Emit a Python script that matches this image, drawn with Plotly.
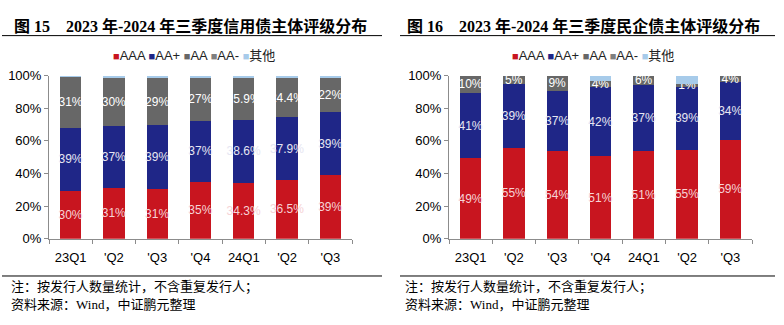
import plotly.graph_objects as go

quarters = ["23Q1", "'Q2", "'Q3", "'Q4", "24Q1", "'Q2", "'Q3"]
series_names = ["AAA", "AA+", "AA", "AA-", "其他"]

# Figure 15: credit bond issuers rating distribution (%)
left_AAA = [29.6, 31.3, 30.7, 35.0, 34.4, 36.2, 39.1]
left_AAp = [38.5, 37.6, 38.8, 37.2, 38.6, 38.2, 38.4]
left_AA = [31.3, 30.1, 29.3, 27.0, 25.9, 24.0, 21.5]
left_AAm = [0, 0, 0, 0, 0, 0, 0]
left_other = [0.6, 1.0, 1.2, 0.8, 1.1, 1.6, 1.0]
left_lbl_AAA = [30, 31, 31, 35, 34.3, 36.5, 39]
left_lbl_AAp = [39, 37, 39, 37, 38.6, 37.9, 39]
left_lbl_AA = [31, 30, 29, 27, 25.9, 24.4, 22]

# Figure 16: private enterprise bond issuers rating distribution (%)
right_AAA = [49.3, 55.7, 53.7, 50.6, 54.0, 54.4, 60.5]
right_AAp = [39.9, 39.1, 37.2, 42.3, 40.2, 38.8, 35.7]
right_AA = [10.8, 5.2, 9.1, 3.6, 5.8, 1.9, 3.8]
right_AAm = [0, 0, 0, 0, 0, 0, 0]
right_other = [0, 0, 0, 3.5, 0, 4.9, 0]
right_lbl_AAA = [49, 55, 54, 51, 51, 55, 59]
right_lbl_AAp = [41, 39, 37, 42, 37, 39, 34]
right_lbl_AA = [10, 5, 9, 4, 6, 1, 4]

y_ticks = [0, 20, 40, 60, 80, 100]
y_ticktext = ["0%", "20%", "40%", "60%", "80%", "100%"]

colors = {"AAA": "#C8151F", "AA+": "#1F2687", "AA": "#676767", "AA-": "#7F7F7F", "其他": "#A7CBEA"}
text_colors = {"AAA": "#F6D3D6", "AA+": "#E6E6F2", "AA": "#FFFFFF"}

FONT = "Liberation Sans, Arial, Noto Sans CJK SC, sans-serif"
CJK = "Noto Sans CJK SC, sans-serif"

fig = go.Figure()
xs = list(range(len(quarters)))


def fmt(v):
    return f"{v:g}%"


def add_chart(xa, ya, vals, lbls):
    for name, v in zip(series_names, vals):
        lab = lbls.get(name)
        fig.add_trace(go.Bar(
            x=xs, y=v, name=name, xaxis=xa, yaxis=ya,
            marker=dict(color=colors[name], line=dict(width=0)),
            width=0.49,
            text=[fmt(t) for t in lab] if lab else None,
            textposition="inside" if lab else "none",
            insidetextanchor="middle",
            constraintext="none",
            textangle=0,
            textfont=dict(family=FONT, size=12, color=text_colors.get(name, "#fff")),
            showlegend=False,
            hoverinfo="skip",
        ))


add_chart("x", "y", [left_AAA, left_AAp, left_AA, left_AAm, left_other],
          {"AAA": left_lbl_AAA, "AA+": left_lbl_AAp, "AA": left_lbl_AA})
add_chart("x2", "y2", [right_AAA, right_AAp, right_AA, right_AAm, right_other],
          {"AAA": right_lbl_AAA, "AA+": right_lbl_AAp, "AA": right_lbl_AA})

W, H = 784, 325
ydom = [(H - 243) / H, (H - 72) / H]

xaxis_common = dict(
    range=[-0.5, 6.5], tickmode="array", tickvals=xs, ticktext=quarters,
    ticks="", showline=True, linecolor="#8C8C8C", linewidth=1,
    tickfont=dict(family=FONT, size=13, color="#000"),
    ticklabelstandoff=7,
    showgrid=False, zeroline=False, fixedrange=True,
    minor=dict(tickmode="linear", tick0=-0.5, dtick=1, ticks="outside",
               ticklen=4, tickcolor="#8C8C8C", showgrid=False),
)
yaxis_common = dict(
    range=[0, 100], tickmode="array", tickvals=y_ticks, ticktext=y_ticktext,
    ticks="outside", ticklen=4, tickcolor="#8C8C8C",
    showline=True, linecolor="#8C8C8C", linewidth=1,
    tickfont=dict(family=FONT, size=13, color="#000"),
    showgrid=False, zeroline=False, domain=ydom, fixedrange=True,
)

fig.update_layout(
    width=W, height=H,
    margin=dict(l=0, r=0, t=0, b=0),
    paper_bgcolor="white", plot_bgcolor="white",
    barmode="stack", bargap=0.5,
    xaxis=dict(xaxis_common, domain=[49 / W, 352 / W], anchor="y"),
    yaxis=dict(yaxis_common, anchor="x"),
    xaxis2=dict(xaxis_common, domain=[449 / W, 752 / W], anchor="y2"),
    yaxis2=dict(yaxis_common, anchor="x2"),
)


def legend_text():
    parts = []
    for n in series_names:
        parts.append(f"<span style='color:{colors[n]};font-size:11px'>■</span>{n}")
    return " ".join(parts)


annotations = [
    dict(text="<b>图 15    2023 年-2024 年三季度信用债主体评级分布</b>", x=12 / W, y=1 - 20 / H,
         xanchor="left", yanchor="middle"),
    dict(text="<b>图 16    2023 年-2024 年三季度民企债主体评级分布</b>", x=405 / W, y=1 - 20 / H,
         xanchor="left", yanchor="middle"),
]
for a in annotations:
    a.update(xref="paper", yref="paper", showarrow=False,
             font=dict(family="Liberation Serif, Noto Sans CJK SC, serif", size=16, color="#000"))

for cx in (194, 593):
    annotations.append(dict(text=legend_text(), x=cx / W, y=1 - 51 / H, xref="paper", yref="paper",
                            xanchor="center", yanchor="middle", showarrow=False,
                            font=dict(family=FONT, size=13, color="#222")))

for x0 in (9, 403):
    annotations.append(dict(text="注：按发行人数量统计，不含重复发行人；", x=x0 / W, y=1 - 292 / H,
                            xref="paper", yref="paper", xanchor="left", yanchor="middle",
                            showarrow=False, font=dict(family=CJK, size=13, color="#000")))
    annotations.append(dict(text="资料来源：<span style='font-family:Liberation Serif'>Wind</span>，中证鹏元整理",
                            x=x0 / W, y=1 - 311 / H,
                            xref="paper", yref="paper", xanchor="left", yanchor="middle",
                            showarrow=False, font=dict(family=CJK, size=13, color="#000")))

shapes = []
for (x0, x1) in ((2, 382), (400, 775)):
    shapes.append(dict(type="line", xref="paper", yref="paper", x0=x0 / W, x1=x1 / W,
                       y0=1 - 30 / H, y1=1 - 30 / H, line=dict(color="#000", width=1)))
    shapes.append(dict(type="line", xref="paper", yref="paper", x0=x0 / W, x1=x1 / W,
                       y0=1 - 282 / H, y1=1 - 282 / H, line=dict(color="#000", width=1)))

fig.update_layout(annotations=annotations, shapes=shapes)
fig.write_html("out.html")
